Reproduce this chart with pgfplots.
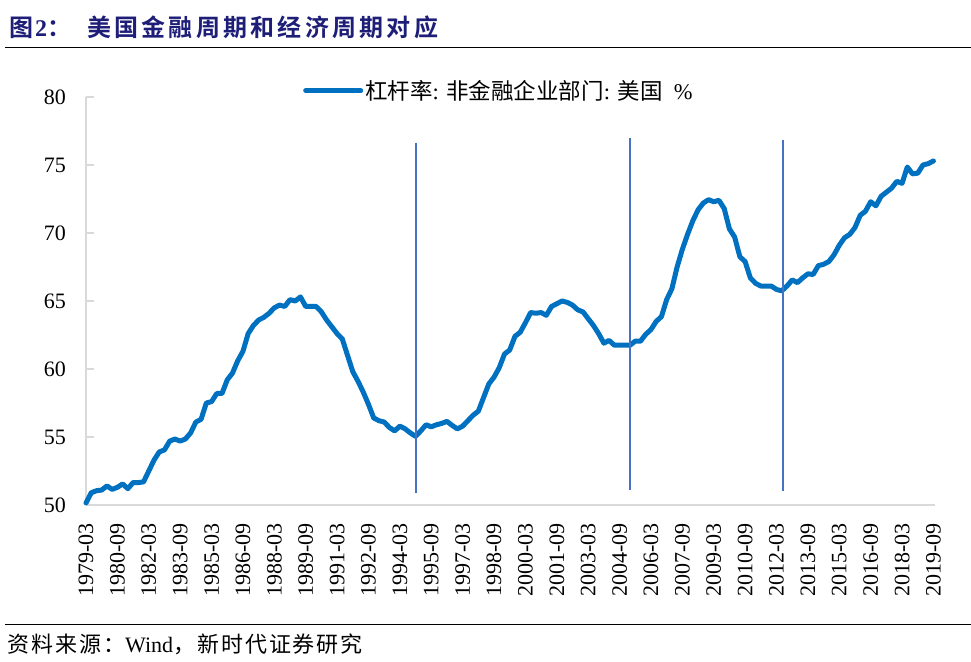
\documentclass[border=0pt]{standalone}
\usepackage{pgfplots}
\pgfplotsset{compat=1.18}
\usepackage{fontspec}
\setmainfont{Liberation Serif}
\newfontfamily\cjk{Noto Sans CJK SC}[BoldFont={Noto Sans CJK SC Bold}]
\newfontfamily\cjkt{Noto Sans CJK SC}[BoldFont={Noto Sans CJK SC Bold}, LetterSpace=13.5]
\newfontfamily\cjks{Noto Sans CJK SC}[LetterSpace=9]
\definecolor{lineblue}{HTML}{0070C0}
\definecolor{vblue}{HTML}{4472C4}
\definecolor{axgray}{HTML}{D9D9D9}
\definecolor{titleblue}{HTML}{1E1E78}

\begin{document}
\begin{tikzpicture}
\useasboundingbox (0,0) rectangle (971bp,-662bp);

% title and source
\node[anchor=base west, inner sep=0pt, text=titleblue, font=\fontsize{24bp}{26bp}\selectfont\bfseries]
  at (9bp,-36bp) {\cjk 图};
\node[anchor=base west, inner sep=0pt, text=titleblue, font=\fontsize{24bp}{26bp}\selectfont\bfseries]
  at (35bp,-36bp) {2\cjk ：};
\node[anchor=base west, inner sep=0pt, text=titleblue, font=\fontsize{24bp}{26bp}\selectfont\bfseries]
  at (87bp,-36bp) {\cjkt 美国金融周期和经济周期对应};
\draw[black, line width=1bp] (5bp,-47bp) -- (971bp,-47bp);
\draw[black, line width=1bp] (5bp,-624bp) -- (971bp,-624bp);
\node[anchor=base west, inner sep=0pt, font=\fontsize{22bp}{24bp}\selectfont]
  at (7bp,-652bp) {{\cjks 资料来源：}Wind{\cjks ，新时代证券研究}};

\begin{axis}[
  at={(86bp,-505bp)}, anchor=south west,
  width=849bp, height=408bp, scale only axis,
  xmin=0, xmax=162.3, ymin=50, ymax=80,
  ytick={50,55,...,80},
  xtick={0,6,...,162},
  xticklabels={1979-03,1980-09,1982-03,1983-09,1985-03,1986-09,1988-03,1989-09,
    1991-03,1992-09,1994-03,1995-09,1997-03,1998-09,2000-03,2001-09,2003-03,
    2004-09,2006-03,2007-09,2009-03,2010-09,2012-03,2013-09,2015-03,2016-09,
    2018-03,2019-09},
  axis x line*=bottom, axis y line*=left,
  axis line style={draw=axgray, line width=1.5bp, -},
  tick align=inside, major tick length=8bp,
  xtick style={draw=none},
  ytick style={draw=axgray, line width=1.2bp},
  /pgf/number format/assume math mode=true,
  tick label style={font=\fontsize{22bp}{24bp}\selectfont, inner sep=0pt},
  x tick label style={rotate=90, anchor=east},
  xticklabel shift=18bp, yticklabel shift=20bp,
  legend style={draw=none, fill=none, at={(axis description cs:0.2556,1.0154)},
    anchor=west, inner sep=0pt, font=\fontsize{22.5bp}{24bp}\selectfont,
    nodes={inner sep=2bp}},
  legend image code/.code={\draw[#1, line cap=round] (0bp,0bp) -- (55bp,0bp);},
  clip=false,
]
\addplot[color=lineblue, line width=5bp, line join=round, line cap=round] table {
x y
0 50.15
1 50.9
2 51.05
3 51.1
4 51.4
5 51.15
6 51.3
7 51.55
8 51.2
9 51.65
10 51.65
11 51.7
12 52.5
13 53.3
14 53.9
15 54.05
16 54.7
17 54.85
18 54.7
19 54.85
20 55.3
21 56.1
22 56.3
23 57.5
24 57.6
25 58.2
26 58.2
27 59.2
28 59.7
29 60.6
30 61.3
31 62.6
32 63.2
33 63.6
34 63.8
35 64.1
36 64.5
37 64.7
38 64.6
39 65.1
40 65.0
41 65.3
42 64.6
43 64.6
44 64.6
45 64.2
46 63.6
47 63.1
48 62.6
49 62.2
50 61.0
51 59.8
52 59.1
53 58.3
54 57.4
55 56.4
56 56.2
57 56.1
58 55.7
59 55.45
60 55.8
61 55.6
62 55.3
63 55.05
64 55.45
65 55.9
66 55.75
67 55.9
68 56.0
69 56.15
70 55.85
71 55.6
72 55.8
73 56.2
74 56.6
75 56.9
76 57.9
77 58.9
78 59.4
79 60.1
80 61.1
81 61.4
82 62.4
83 62.7
84 63.4
85 64.15
86 64.1
87 64.15
88 63.95
89 64.6
90 64.8
91 65.0
92 64.9
93 64.7
94 64.35
95 64.2
96 63.7
97 63.2
98 62.6
99 61.9
100 62.1
101 61.75
102 61.75
103 61.75
104 61.75
105 62.05
106 62.05
107 62.55
108 62.9
109 63.5
110 63.85
111 65.1
112 65.9
113 67.5
114 68.8
115 69.9
116 70.9
117 71.7
118 72.2
119 72.45
120 72.3
121 72.4
122 71.8
123 70.3
124 69.7
125 68.25
126 67.9
127 66.7
128 66.3
129 66.1
130 66.1
131 66.1
132 65.85
133 65.75
134 66.1
135 66.55
136 66.35
137 66.7
138 67.0
139 66.95
140 67.6
141 67.7
142 67.9
143 68.4
144 69.1
145 69.65
146 69.9
147 70.4
148 71.3
149 71.6
150 72.3
151 72.0
152 72.7
153 73.0
154 73.3
155 73.8
156 73.65
157 74.85
158 74.35
159 74.4
160 75.0
161 75.1
162 75.3
};
\addlegendentry{{\cjk 杠杆率}: {\cjk 非金融企业部门}: {\cjk 美国}\ \ \%}
\addplot[color=vblue, line width=2bp, forget plot] coordinates {(63,76.64) (63,50.88)};
\addplot[color=vblue, line width=2bp, forget plot] coordinates {(104,76.96) (104,51.1)};
\addplot[color=vblue, line width=2bp, forget plot] coordinates {(133.2,76.84) (133.2,51.03)};
\end{axis}
\end{tikzpicture}
\end{document}
